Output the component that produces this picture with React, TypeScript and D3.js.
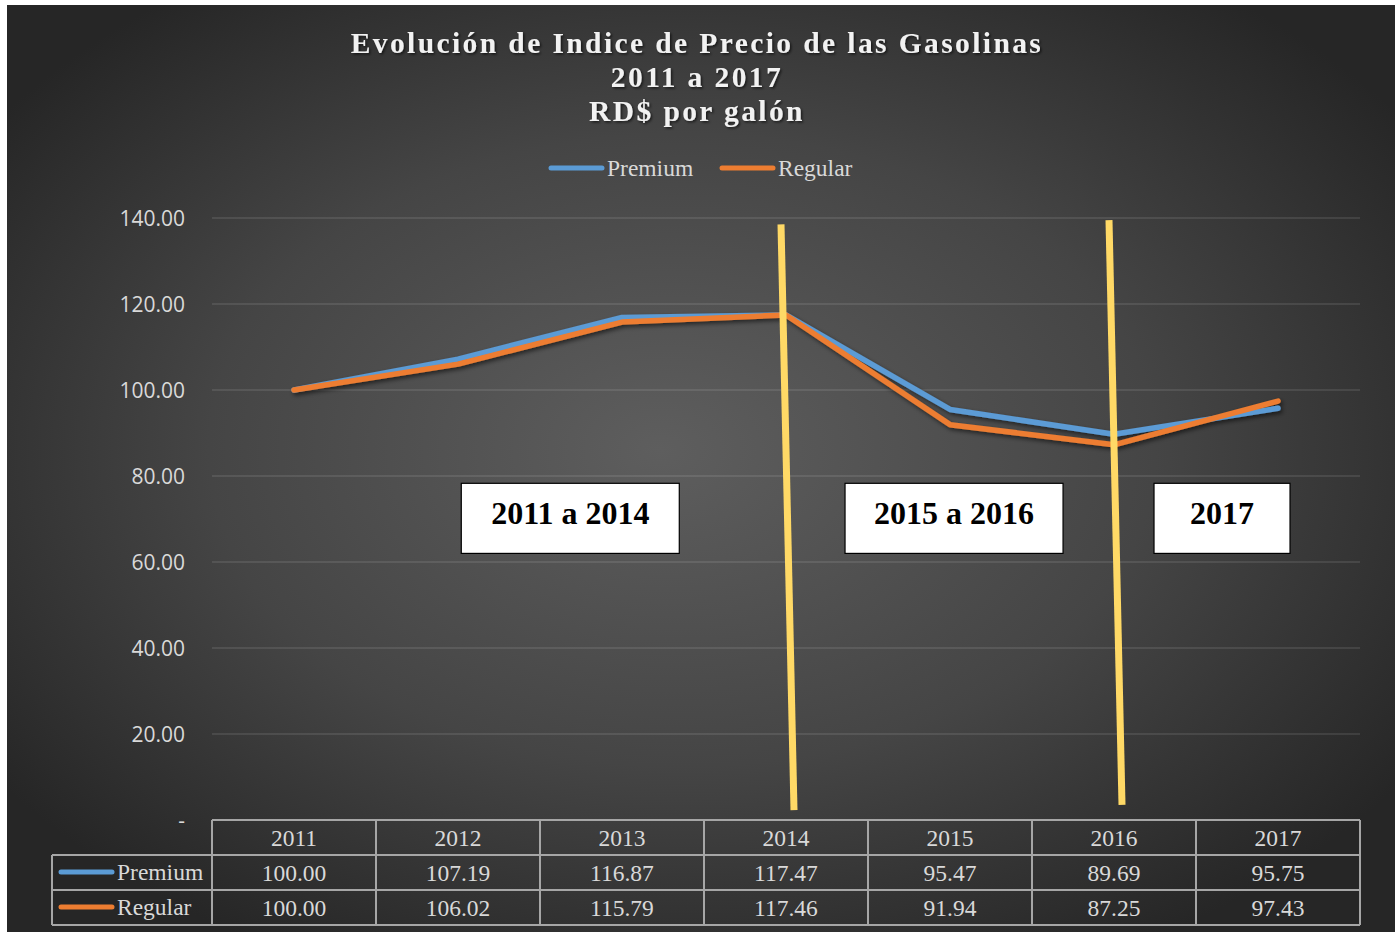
import React from "react";
import * as d3 from "d3";

const years = ["2011", "2012", "2013", "2014", "2015", "2016", "2017"];
const premium = [100.0, 107.19, 116.87, 117.47, 95.47, 89.69, 95.75];
const regular = [100.0, 106.02, 115.79, 117.46, 91.94, 87.25, 97.43];
const yTicks = [0, 20, 40, 60, 80, 100, 120, 140];
const titleLines = ["Evolución de Indice de Precio de las Gasolinas", "2011 a 2017", "RD$ por galón"];
const periodLabels = [
  { text: "2011 a 2014", from: "2012", offset: 0.02, w: 218 },
  { text: "2015 a 2016", from: "2015", offset: -0.64, w: 218 },
  { text: "2017", from: "2017", offset: -0.756, w: 136 },
];

const W = 1395;
const H = 932;
const PL = 212, PR = 1360, PT = 218, PB = 820;
const BLUE = "#5b9bd5";
const ORANGE = "#ed7d31";
const TXT = "#d9d9d9";
const GRID = "rgba(255,255,255,0.13)";
const TABLE = "#a6a6a6";
const SERIF = "'Liberation Serif', 'Times New Roman', serif";

export default function App() {
  const x = d3.scaleBand<string>().domain(years).range([PL, PR]).padding(0);
  const bw = x.bandwidth();
  const cx = (yr: string) => (x(yr) as number) + bw / 2;
  const y = d3.scaleLinear().domain([0, 140]).range([PB, PT]);
  const line = d3
    .line<number>()
    .x((_, i) => cx(years[i]))
    .y((d) => y(d));

  const rowH = 35;
  const tableTop = PB;
  const fmt = d3.format(".2f");

  const series = [
    { name: "Premium", values: premium, color: BLUE },
    { name: "Regular", values: regular, color: ORANGE },
  ];

  const seps = [
    { x1: cx("2014") - 5, y1: y(138.5), x2: cx("2014") + 8, y2: y(2.3) },
    { x1: cx("2016") - 5, y1: y(139.5), x2: cx("2016") + 8, y2: y(3.5) },
  ];

  return (
    <svg
      width={W}
      height={H}
      style={{ position: "absolute", left: 0, top: 0, display: "block" }}
      xmlns="http://www.w3.org/2000/svg"
    >
      <defs>
        <radialGradient id="bg" cx="0.5" cy="0.48" r="0.62" fx="0.47" fy="0.48">
          <stop offset="0" stopColor="#5e5e5e" />
          <stop offset="0.55" stopColor="#454545" />
          <stop offset="1" stopColor="#262626" />
        </radialGradient>
        <filter id="tshadow" x="-10%" y="-30%" width="120%" height="160%">
          <feDropShadow dx="1.5" dy="1.5" stdDeviation="1.2" floodColor="#000" floodOpacity="0.6" />
        </filter>
        <filter id="lshadow" x="-10%" y="-30%" width="120%" height="160%">
          <feDropShadow dx="2" dy="2.5" stdDeviation="2" floodColor="#000" floodOpacity="0.55" />
        </filter>
      </defs>
      <rect x={0} y={0} width={W} height={H} fill="#ffffff" />
      <rect x={7} y={5} width={W - 7} height={H - 5} fill="url(#bg)" />

      {/* title */}
      <g filter="url(#tshadow)">
        {titleLines.map((t, i) => (
          <text
            key={i}
            x={697}
            y={53 + i * 34}
            textAnchor="middle"
            fontFamily={SERIF}
            fontWeight="bold"
            fontSize={29.5}
            letterSpacing={2.4}
            fill="#f2f2f2"
          >
            {t}
          </text>
        ))}
      </g>

      {/* legend */}
      {series.map((s, i) => {
        const lx = i === 0 ? 549 : 720;
        return (
          <g key={s.name}>
            <line x1={lx + 2} x2={lx + 53} y1={168} y2={168} stroke={s.color} strokeWidth={5} strokeLinecap="round" />
            <text x={lx + 58} y={176} fontFamily={SERIF} fontSize={23.5} fill={TXT}>
              {s.name}
            </text>
          </g>
        );
      })}

      {/* gridlines */}
      {yTicks.filter((t) => t > 0).map((t) => (
        <line key={t} x1={PL} x2={PR} y1={y(t)} y2={y(t)} stroke={GRID} strokeWidth={1.3} />
      ))}

      {/* y labels */}
      {yTicks.map((t) => (
        <text
          key={t}
          x={185}
          y={y(t) + 7.5}
          textAnchor="end"
          fontFamily="'Open Sans', 'Noto Sans', sans-serif"
          fontSize={21}
          fill={TXT}
        >
          {t === 0 ? "-" : fmt(t)}
        </text>
      ))}

      {/* series lines */}
      <g filter="url(#lshadow)">
        {series.map((s) => (
          <path
            key={s.name}
            d={line(s.values) || ""}
            fill="none"
            stroke={s.color}
            strokeWidth={5.5}
            strokeLinecap="round"
            strokeLinejoin="round"
          />
        ))}
      </g>

      {/* yellow separators */}
      {seps.map((s, i) => (
        <line key={i} x1={s.x1} y1={s.y1} x2={s.x2} y2={s.y2} stroke="#ffd966" strokeWidth={7} />
      ))}

      {/* period boxes */}
      {periodLabels.map((p) => {
        const bx = cx(p.from) + p.offset * bw;
        const by = y(78.3);
        const bh = y(62) - y(78.3);
        return (
          <g key={p.text}>
            <rect x={bx} y={by} width={p.w} height={bh} fill="#ffffff" stroke="#000" strokeWidth={1.2} />
            <text
              x={bx + p.w / 2}
              y={by + bh / 2 + 6}
              textAnchor="middle"
              fontFamily={SERIF}
              fontWeight="bold"
              fontSize={32}
              fill="#000"
            >
              {p.text}
            </text>
          </g>
        );
      })}

      {/* data table */}
      <g stroke={TABLE} strokeWidth={2} fill="none">
        <line x1={PL} x2={PR} y1={tableTop} y2={tableTop} />
        <line x1={52} x2={PR} y1={tableTop + rowH} y2={tableTop + rowH} />
        <line x1={52} x2={PR} y1={tableTop + rowH * 2} y2={tableTop + rowH * 2} />
        <line x1={52} x2={PR} y1={tableTop + rowH * 3} y2={tableTop + rowH * 3} />
        <line x1={52} x2={52} y1={tableTop + rowH} y2={tableTop + rowH * 3} />
        {years.map((yr) => (
          <line key={yr} x1={x(yr) as number} x2={x(yr) as number} y1={tableTop} y2={tableTop + rowH * 3} />
        ))}
        <line x1={PR} x2={PR} y1={tableTop} y2={tableTop + rowH * 3} />
      </g>
      {years.map((yr) => (
        <text key={yr} x={cx(yr)} y={tableTop + 26} textAnchor="middle" fontFamily={SERIF} fontSize={23.5} fill={TXT}>
          {yr}
        </text>
      ))}
      {series.map((s, r) => (
        <g key={s.name}>
          <line
            x1={61}
            x2={112}
            y1={tableTop + rowH * (r + 1) + 17}
            y2={tableTop + rowH * (r + 1) + 17}
            stroke={s.color}
            strokeWidth={5}
            strokeLinecap="round"
          />
          <text x={117} y={tableTop + rowH * (r + 1) + 25} fontFamily={SERIF} fontSize={23.5} fill={TXT}>
            {s.name}
          </text>
          {s.values.map((v, i) => (
            <text
              key={i}
              x={cx(years[i])}
              y={tableTop + rowH * (r + 1) + 26}
              textAnchor="middle"
              fontFamily={SERIF}
              fontSize={23.5}
              fill={TXT}
            >
              {fmt(v)}
            </text>
          ))}
        </g>
      ))}
    </svg>
  );
}
